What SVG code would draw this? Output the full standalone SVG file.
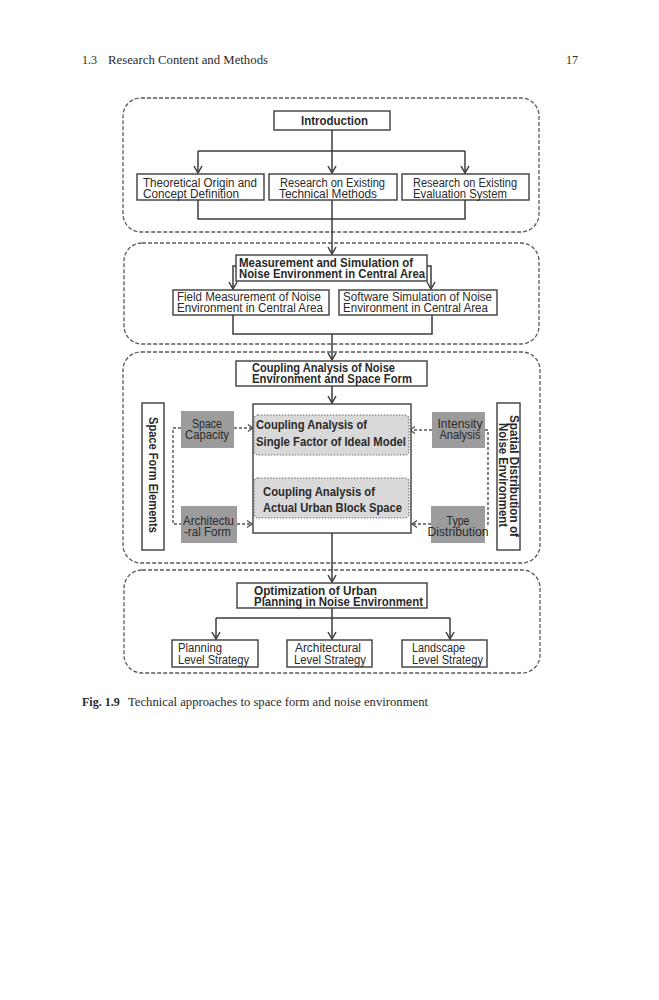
<svg xmlns="http://www.w3.org/2000/svg" width="659" height="1000" viewBox="0 0 659 1000">
<defs>
<style>
.pg{font-family:"Liberation Serif","Times New Roman",serif;font-size:12px;fill:#2a2a2a}
.t{font-family:"Liberation Sans",Arial,sans-serif;font-size:12px;fill:#2a2a2a}
.b{font-weight:bold}
.sec{fill:none;stroke:#5a5a5a;stroke-width:1.3;stroke-dasharray:4 2}
.box{fill:#fff;stroke:#3c3c3c;stroke-width:1.4}
.gbox{fill:#9c9c9c;stroke:none}
.ibox{fill:#d9d9d9;stroke:#707070;stroke-width:1.1;stroke-dasharray:1.5 1.5}
.ln{fill:none;stroke:#3c3c3c;stroke-width:1.5}
.dl{fill:none;stroke:#555;stroke-width:1.4;stroke-dasharray:3 2}
</style>
<marker id="arr" markerUnits="userSpaceOnUse" markerWidth="12" markerHeight="12" refX="9" refY="5" orient="auto">
<path d="M2,1 L9,5 L2,9" fill="none" stroke="#3c3c3c" stroke-width="1.5"/>
</marker>
<marker id="darr" markerUnits="userSpaceOnUse" markerWidth="12" markerHeight="12" refX="8" refY="5" orient="auto">
<path d="M3,1.5 L8,5 L3,8.5" fill="none" stroke="#555" stroke-width="1.4"/>
</marker>
</defs>
<rect width="659" height="1000" fill="#fff"/>

<g id="header">
<text class="pg" x="82" y="64">1.3</text>
<text class="pg" x="108" y="64" textLength="160" lengthAdjust="spacingAndGlyphs">Research Content and Methods</text>
<text class="pg" x="566" y="64">17</text>
</g>

<g id="sections">
<rect id="sec1" class="sec" x="123" y="98" width="416" height="134" rx="18"/>
<rect id="sec2" class="sec" x="124" y="243" width="415" height="101" rx="18"/>
<rect id="sec3" class="sec" x="123" y="352" width="417" height="211" rx="18"/>
<rect id="sec4" class="sec" x="124" y="570" width="416" height="103" rx="18"/>
</g>

<g id="connectors">
<path class="ln" d="M332,130 V151 M198,151 H465"/>
<path class="ln" d="M198,151 V173" marker-end="url(#arr)"/>
<path class="ln" d="M332,151 V173" marker-end="url(#arr)"/>
<path class="ln" d="M465,151 V173" marker-end="url(#arr)"/>
<path class="ln" d="M198,200 V219 H465 V200"/>
<path class="ln" d="M332,200 V254" marker-end="url(#arr)"/>
<path class="ln" d="M236,266 H233 V289" marker-end="url(#arr)"/>
<path class="ln" d="M427,266 H431 V289" marker-end="url(#arr)"/>
<path class="ln" d="M233,315 V334 H432 V315"/>
<path class="ln" d="M332,334 V360" marker-end="url(#arr)"/>
<path class="ln" d="M332,386 V403" marker-end="url(#arr)"/>
<path class="ln" d="M332,455 V478"/>
<path class="ln" d="M332,533 V582" marker-end="url(#arr)"/>
<path class="ln" d="M332,608 V618 M216,618 H450"/>
<path class="ln" d="M216,618 V639" marker-end="url(#arr)"/>
<path class="ln" d="M332,618 V639" marker-end="url(#arr)"/>
<path class="ln" d="M450,618 V639" marker-end="url(#arr)"/>
<path class="dl" d="M234,428 H253" marker-end="url(#darr)"/>
<path class="dl" d="M181,428 H173 V524 H181"/>
<path class="dl" d="M237,524 H252" marker-end="url(#darr)"/>
<path class="dl" d="M432,430 H410" marker-end="url(#darr)"/>
<path class="dl" d="M431,524 H412" marker-end="url(#darr)"/>
<path class="dl" d="M485,430 H488 V524 H485"/>
</g>

<g id="introduction">
<rect class="box" x="274" y="111" width="116" height="19"/>
<text class="t b" x="301" y="125" textLength="67" lengthAdjust="spacingAndGlyphs">Introduction</text>
</g>
<g id="theoretical">
<rect class="box" x="137" y="174" width="127" height="26"/>
<text class="t" x="143" y="187" textLength="114" lengthAdjust="spacingAndGlyphs">Theoretical Origin and</text>
<text class="t" x="143" y="198" textLength="96" lengthAdjust="spacingAndGlyphs">Concept Definition</text>
</g>
<g id="technical">
<rect class="box" x="269" y="174" width="128" height="26"/>
<text class="t" x="280" y="187" textLength="105" lengthAdjust="spacingAndGlyphs">Research on Existing</text>
<text class="t" x="279" y="198" textLength="98" lengthAdjust="spacingAndGlyphs">Technical Methods</text>
</g>
<g id="evaluation">
<rect class="box" x="402" y="174" width="127" height="26"/>
<text class="t" x="413" y="187" textLength="104" lengthAdjust="spacingAndGlyphs">Research on Existing</text>
<text class="t" x="413" y="198" textLength="94" lengthAdjust="spacingAndGlyphs">Evaluation System</text>
</g>

<g id="measurement">
<rect class="box" x="236" y="255" width="191" height="26"/>
<text class="t b" x="239" y="267" textLength="174" lengthAdjust="spacingAndGlyphs">Measurement and Simulation of</text>
<text class="t b" x="239" y="278" textLength="186" lengthAdjust="spacingAndGlyphs">Noise Environment in Central Area</text>
</g>
<g id="field">
<rect class="box" x="173" y="290" width="156" height="25"/>
<text class="t" x="177" y="301" textLength="144" lengthAdjust="spacingAndGlyphs">Field Measurement of Noise</text>
<text class="t" x="177" y="312" textLength="146" lengthAdjust="spacingAndGlyphs">Environment in Central Area</text>
</g>
<g id="software">
<rect class="box" x="339" y="290" width="158" height="25"/>
<text class="t" x="343" y="301" textLength="149" lengthAdjust="spacingAndGlyphs">Software Simulation of Noise</text>
<text class="t" x="343" y="312" textLength="145" lengthAdjust="spacingAndGlyphs">Environment in Central Area</text>
</g>

<g id="coupling">
<rect class="box" x="236" y="361" width="191" height="25"/>
<text class="t b" x="252" y="372" textLength="143" lengthAdjust="spacingAndGlyphs">Coupling Analysis of Noise</text>
<text class="t b" x="252" y="383" textLength="160" lengthAdjust="spacingAndGlyphs">Environment and Space Form</text>
</g>
<g id="analysis-frame">
<rect class="box" x="253" y="404" width="158" height="129"/>
</g>
<g id="single-factor">
<rect class="ibox" x="254" y="415" width="155" height="40" rx="4"/>
<text class="t b" x="256" y="429" textLength="111" lengthAdjust="spacingAndGlyphs">Coupling Analysis of</text>
<text class="t b" x="256" y="446" textLength="150" lengthAdjust="spacingAndGlyphs">Single Factor of Ideal Model</text>
</g>
<g id="actual-block">
<rect class="ibox" x="254" y="478" width="155" height="40" rx="4"/>
<text class="t b" x="263" y="496" textLength="112" lengthAdjust="spacingAndGlyphs">Coupling Analysis of</text>
<text class="t b" x="263" y="512" textLength="139" lengthAdjust="spacingAndGlyphs">Actual Urban Block Space</text>
</g>
<g id="space-capacity">
<rect class="gbox" x="181" y="411" width="53" height="37"/>
<text class="t" x="207" y="428" text-anchor="middle" textLength="30" lengthAdjust="spacingAndGlyphs">Space</text>
<text class="t" x="207" y="439" text-anchor="middle" textLength="44" lengthAdjust="spacingAndGlyphs">Capacity</text>
</g>
<g id="architectural-form">
<rect class="gbox" x="181" y="506" width="56" height="37"/>
<text class="t" x="183" y="525" textLength="51" lengthAdjust="spacingAndGlyphs">Architectu</text>
<text class="t" x="184" y="536" textLength="47" lengthAdjust="spacingAndGlyphs">-ral Form</text>
</g>
<g id="intensity">
<rect class="gbox" x="432" y="412" width="53" height="36"/>
<text class="t" x="460" y="428" text-anchor="middle" textLength="45" lengthAdjust="spacingAndGlyphs">Intensity</text>
<text class="t" x="460" y="439" text-anchor="middle" textLength="41" lengthAdjust="spacingAndGlyphs">Analysis</text>
</g>
<g id="type-distribution">
<rect class="gbox" x="431" y="506" width="54" height="37"/>
<text class="t" x="458" y="525" text-anchor="middle" textLength="23" lengthAdjust="spacingAndGlyphs">Type</text>
<text class="t" x="458" y="536" text-anchor="middle" textLength="61" lengthAdjust="spacingAndGlyphs">Distribution</text>
</g>
<g id="space-form-elements">
<rect class="box" x="142" y="403" width="22" height="147"/>
<text class="t b" transform="translate(149,475) rotate(90)" x="0" y="0" text-anchor="middle" textLength="116" lengthAdjust="spacingAndGlyphs">Space Form Elements</text>
</g>
<g id="spatial-distribution">
<rect class="box" x="497" y="403" width="23" height="147"/>
<text class="t b" transform="translate(510,476) rotate(90)" x="0" y="0" text-anchor="middle" textLength="122" lengthAdjust="spacingAndGlyphs">Spatial Distribution of</text>
<text class="t b" transform="translate(499,475) rotate(90)" x="0" y="0" text-anchor="middle" textLength="104" lengthAdjust="spacingAndGlyphs">Noise Environment</text>
</g>

<g id="optimization">
<rect class="box" x="237" y="583" width="190" height="25"/>
<text class="t b" x="254" y="595" textLength="123" lengthAdjust="spacingAndGlyphs">Optimization of Urban</text>
<text class="t b" x="254" y="606" textLength="169" lengthAdjust="spacingAndGlyphs">Planning in Noise Environment</text>
</g>
<g id="planning">
<rect class="box" x="172" y="640" width="86" height="27"/>
<text class="t" x="178" y="652" textLength="44" lengthAdjust="spacingAndGlyphs">Planning</text>
<text class="t" x="178" y="664" textLength="71" lengthAdjust="spacingAndGlyphs">Level Strategy</text>
</g>
<g id="architectural">
<rect class="box" x="287" y="640" width="85" height="27"/>
<text class="t" x="295" y="652" textLength="66" lengthAdjust="spacingAndGlyphs">Architectural</text>
<text class="t" x="294" y="664" textLength="72" lengthAdjust="spacingAndGlyphs">Level Strategy</text>
</g>
<g id="landscape">
<rect class="box" x="402" y="640" width="85" height="27"/>
<text class="t" x="412" y="652" textLength="53" lengthAdjust="spacingAndGlyphs">Landscape</text>
<text class="t" x="412" y="664" textLength="71" lengthAdjust="spacingAndGlyphs">Level Strategy</text>
</g>

<g id="caption">
<text class="pg b" x="82" y="706">Fig. 1.9</text>
<text class="pg" x="128" y="706" textLength="300" lengthAdjust="spacingAndGlyphs">Technical approaches to space form and noise environment</text>
</g>
</svg>
